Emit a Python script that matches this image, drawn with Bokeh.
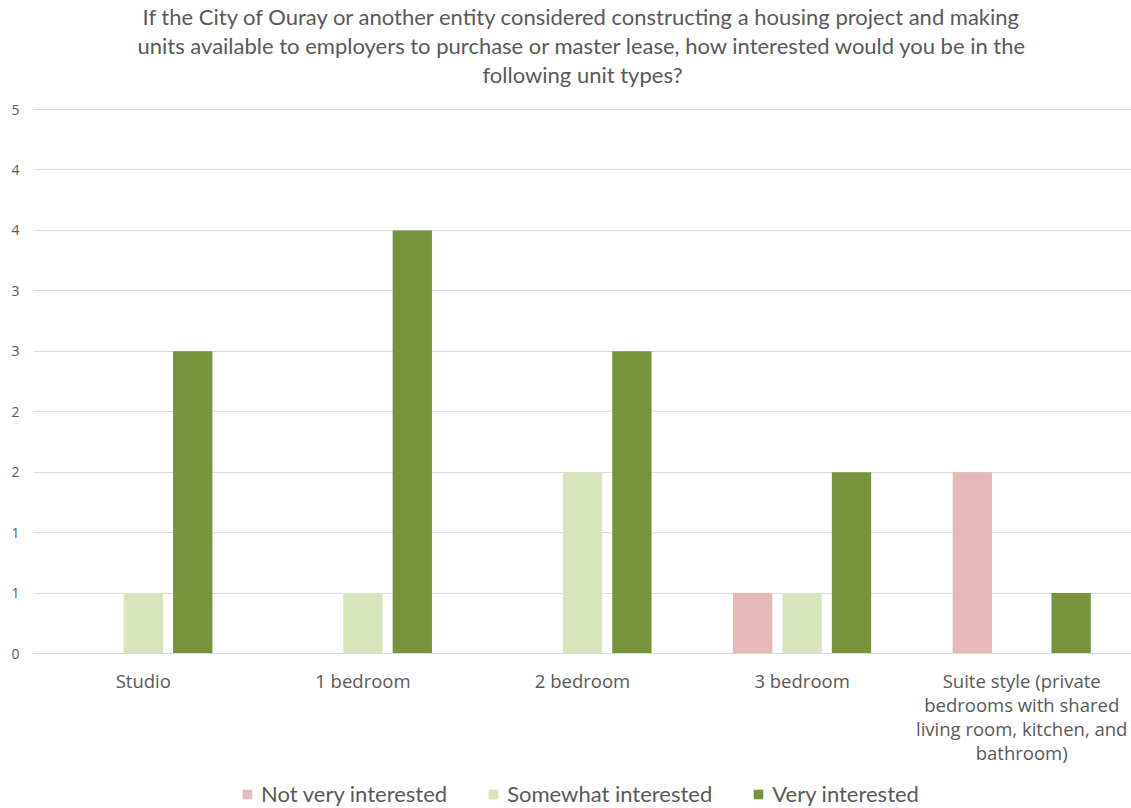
from bokeh.plotting import figure
from bokeh.layouts import column
from bokeh.models import ColumnDataSource, FactorRange, Range1d, FixedTicker, Legend, LegendItem, Title
from bokeh.transform import dodge
from bokeh.embed import file_html
from bokeh.resources import INLINE

# ---- data ----
categories = ["Studio", "1 bedroom", "2 bedroom", "3 bedroom",
              "Suite style (private\nbedrooms with shared\nliving room, kitchen, and\nbathroom)"]
not_very = [0, 0, 0, 0.5, 1.5]
somewhat = [0.5, 0.5, 1.5, 0.5, 0]
very = [2.5, 3.5, 2.5, 1.5, 0.5]
series_names = ["Not very interested", "Somewhat interested", "Very interested"]
series_colors = ["#E6B8B7", "#D8E4BC", "#77933C"]
y_ticks = [0, 0.5, 1, 1.5, 2, 2.5, 3, 3.5, 4, 4.5]
y_tick_labels = ["0", "1", "1", "2", "2", "3", "3", "4", "4", "5"]
title_lines = ["If the City of Ouray or another entity considered constructing a housing project and making",
               "units available to employers to purchase or master lease, how interested would you be in the",
               "following unit types?"]

FONT = "Lato"
AXFONT = "Open Sans"
GREY = "#595959"

src = ColumnDataSource(dict(cat=categories, nv=not_very, sw=somewhat, vy=very))

p = figure(x_range=FactorRange(*categories), y_range=Range1d(0, 4.682),
           frame_width=1098, frame_height=566, title=None,
           output_backend="svg", toolbar_location=None,
           min_border_left=33, min_border_right=0, min_border_top=0, min_border_bottom=115,
           outline_line_color=None)

# title: three centred lines; the first one added sits closest to the plot
for line in reversed(title_lines):
    t = Title(text=line, align="center", text_font=FONT, text_font_size="22px",
              text_font_style="normal", text_color=GREY, standoff=0, offset=-9)
    p.add_layout(t, "above")

offsets = [-0.225, 0.0, 0.225]
cols = ["nv", "sw", "vy"]
for off, col, color in zip(offsets, cols, series_colors):
    p.vbar(x=dodge("cat", off, range=p.x_range), top=col, width=0.179, bottom=0,
           source=src, fill_color=color, line_color=None)

p.xgrid.grid_line_color = None
p.ygrid.grid_line_color = "#D9D9D9"
p.ygrid.grid_line_width = 1
p.yaxis.ticker = FixedTicker(ticks=y_ticks)
p.yaxis.major_label_overrides = {t: l for t, l in zip(y_ticks, y_tick_labels)}
p.yaxis.axis_line_color = None
p.yaxis.major_tick_line_color = None
p.yaxis.major_tick_out = 0
p.yaxis.minor_tick_line_color = None
p.yaxis.major_label_standoff = 14
p.yaxis.major_label_text_font = AXFONT
p.yaxis.major_label_text_font_size = "14px"
p.yaxis.major_label_text_color = GREY

p.xaxis.axis_line_color = "#D9D9D9"
p.xaxis.major_tick_line_color = None
p.xaxis.major_tick_out = 0
p.xaxis.minor_tick_line_color = None
p.xaxis.major_label_standoff = 14
p.xaxis.major_label_text_font = AXFONT
p.xaxis.major_label_text_font_size = "18.5px"
p.xaxis.major_label_text_color = GREY
p.xaxis.major_label_text_line_height = 0.97

# legend strip under the chart (its swatch renderers sit outside the visible range)
lg = figure(width=1131, height=40, x_axis_type=None, y_axis_type=None,
            x_range=Range1d(0, 1), y_range=Range1d(0, 1),
            output_backend="svg", toolbar_location=None, outline_line_color=None,
            min_border=0)
lg_renderers = [lg.vbar(x=[10], top=[20], bottom=[19], width=0.1, fill_color=c, line_color=None)
                for c in series_colors]
legend = Legend(items=[LegendItem(label=n, renderers=[r]) for n, r in zip(series_names, lg_renderers)],
                orientation="horizontal", location=(208, 1),
                label_text_font=FONT, label_text_font_size="22px", label_text_color=GREY,
                glyph_width=12, glyph_height=12, spacing=40, label_standoff=8,
                border_line_color=None, background_fill_alpha=0, padding=0, margin=0)
lg.add_layout(legend, "center")

layout = column(p, lg, spacing=0)
open("out.html", "w").write(file_html(layout, INLINE))
